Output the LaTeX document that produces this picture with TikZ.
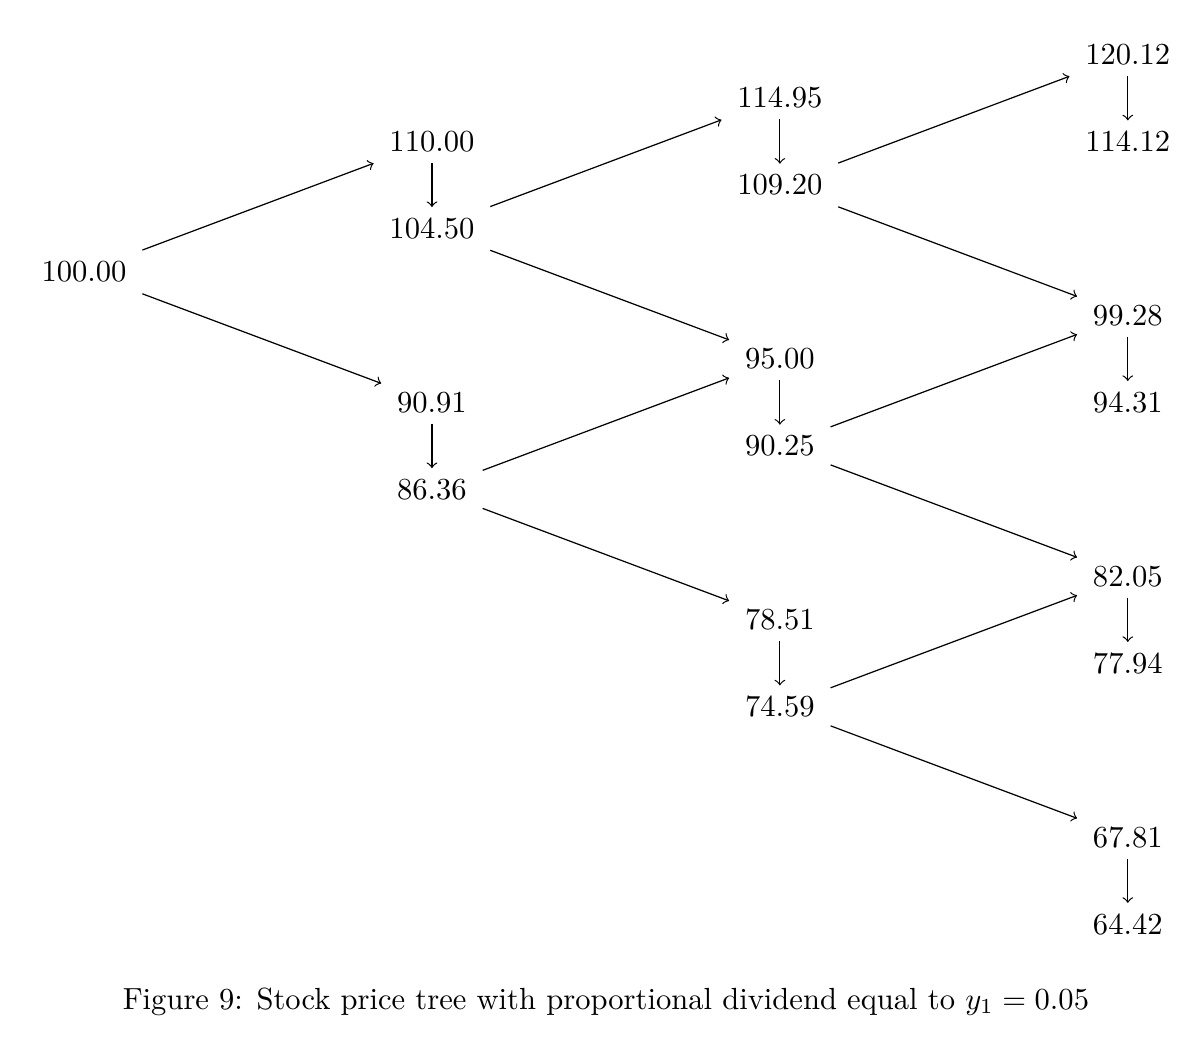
\documentclass[tikz,border=0pt]{standalone}
\usepackage{tikz}
\usetikzlibrary{positioning}

\tikzset{
  price/.style={inner sep=5pt},
  branch/.style={->},
  divdrop/.style={->, shorten >=-1.7pt, shorten <=-1.7pt}
}

\begin{document}
\begin{tikzpicture}
    \useasboundingbox (-0.966,3.126) rectangle (12.83,-8.99);

    % time 0
    \node[price] (s0) at (0,0) {100.00};

    % time 1
    \node[price] (u1) at (4,1.5) {110.00};
    \node[price] (u1x) at (4,0.5) {104.50};
    \node[price] (d1) at (4,-1.5) {90.91};
    \node[price] (d1x) at (4,-2.5) {86.36};

    % time 2
    \node[price] (uu2) at (8,2) {114.95};
    \node[price] (uu2x) at (8,1) {109.20};
    \node[price] (ud2) at (8,-1) {95.00};
    \node[price] (ud2x) at (8,-2) {90.25};
    \node[price] (dd2) at (8,-4) {78.51};
    \node[price] (dd2x) at (8,-5) {74.59};

    % time 3
    \node[price] (uuu3) at (12,2.5) {120.12};
    \node[price] (uuu3x) at (12,1.5) {114.12};
    \node[price] (uud3) at (12,-0.5) {99.28};
    \node[price] (uud3x) at (12,-1.5) {94.31};
    \node[price] (udd3) at (12,-3.5) {82.05};
    \node[price] (udd3x) at (12,-4.5) {77.94};
    \node[price] (ddd3) at (12,-6.5) {67.81};
    \node[price] (ddd3x) at (12,-7.5) {64.42};

    % up / down moves
    \draw[branch] (s0) -- (u1);
    \draw[branch] (s0) -- (d1);
    \draw[branch] (u1x) -- (uu2);
    \draw[branch] (u1x) -- (ud2);
    \draw[branch] (d1x) -- (ud2);
    \draw[branch] (d1x) -- (dd2);
    \draw[branch] (uu2x) -- (uuu3);
    \draw[branch] (uu2x) -- (uud3);
    \draw[branch] (ud2x) -- (uud3);
    \draw[branch] (ud2x) -- (udd3);
    \draw[branch] (dd2x) -- (udd3);
    \draw[branch] (dd2x) -- (ddd3);

    % dividend drops
    \draw[divdrop] (u1) -- (u1x);
    \draw[divdrop] (d1) -- (d1x);
    \draw[divdrop] (uu2) -- (uu2x);
    \draw[divdrop] (ud2) -- (ud2x);
    \draw[divdrop] (dd2) -- (dd2x);
    \draw[divdrop] (uuu3) -- (uuu3x);
    \draw[divdrop] (uud3) -- (uud3x);
    \draw[divdrop] (udd3) -- (udd3x);
    \draw[divdrop] (ddd3) -- (ddd3x);

    \node (caption) at (6.0,-8.39) {Figure 9: Stock price tree with proportional dividend equal to $y_1 = 0.05$};
\end{tikzpicture}
\end{document}
